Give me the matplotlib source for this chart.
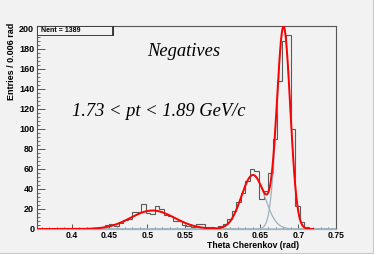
import numpy as np
import matplotlib.pyplot as plt
from matplotlib.patches import Rectangle

# Histogram: 66 bins of 0.006 rad starting at 0.354 rad
x_lo = 0.354
bin_w = 0.006
counts = [0, 0, 0, 0, 0, 1, 0, 0, 1, 0,
          0, 0, 1, 1, 2, 4, 5, 3, 6, 9,
          10, 17, 17, 25, 16, 15, 23, 20, 14, 13,
          8, 8, 4, 3, 2, 5, 5, 2, 2, 1,
          3, 5, 10, 18, 27, 36, 48, 60, 58, 30,
          38, 56, 90, 148, 188, 194, 100, 23, 7, 2,
          0, 0, 0, 0, 0, 0]

# Gaussian fit components (mean, sigma, amplitude)
g_means = [0.507, 0.640, 0.6806]
g_sigmas = [0.029, 0.0153, 0.0088]
g_amps = [18.5, 54.0, 201.0]

x_ticks = [0.4, 0.45, 0.5, 0.55, 0.6, 0.65, 0.7, 0.75]
x_labels = ['0.4', '0.45', '0.5', '0.55', '0.6', '0.65', '0.7', '0.75']
y_ticks = list(range(0, 201, 20))

W, H = 374, 254
fig = plt.figure(figsize=(W / 100, H / 100), dpi=100, facecolor='#f2f2f2')
ax = fig.add_axes([37 / W, 25 / H, 299 / W, 203 / H])
ax.set_facecolor('#f2f2f2')

edges = x_lo + bin_w * np.arange(len(counts) + 1)
ax.stairs(counts, edges, baseline=None, color='#5a5a5a', lw=0.8, zorder=2)


def gauss(x, m, s, a):
    return a * np.exp(-0.5 * ((x - m) / s) ** 2)


xs = np.linspace(x_lo, 0.75, 800)
for m, s, a in zip(g_means, g_sigmas, g_amps):
    ax.plot(xs, gauss(xs, m, s, a), color='#9db3bf', lw=0.9, zorder=3)

xf = xs[xs <= 0.72]
total = sum(gauss(xf, m, s, a) for m, s, a in zip(g_means, g_sigmas, g_amps))
ax.plot(xf, total, color='#ff0000', lw=1.4, zorder=4)

ax.set_xlim(x_lo, 0.75)
ax.set_ylim(0, 203)
ax.set_xticks(x_ticks)
ax.set_xticklabels(x_labels)
ax.set_xticks(np.arange(0.36, 0.7501, 0.01), minor=True)
ax.set_yticks(y_ticks)
ax.set_yticks(range(0, 201, 4), minor=True)
for lab in ax.get_yticklabels():
    lab.set_fontfamily('Liberation Sans')
    lab.set_fontweight('bold')
    lab.set_fontsize(6.5)
for lab in ax.get_xticklabels():
    lab.set_fontfamily('Liberation Sans')
    lab.set_fontweight('bold')
    lab.set_fontsize(6.2)
ax.tick_params(axis='x', which='major', direction='in', length=3.6, width=0.7,
               color='#555555', pad=1.8, top=False)
ax.tick_params(axis='x', which='minor', direction='in', length=1.8, width=0.6,
               color='#555555', top=False)
ax.tick_params(axis='y', which='major', direction='in', length=5.5, width=0.7,
               color='#555555', pad=2, right=False)
ax.tick_params(axis='y', which='minor', direction='in', length=2.5, width=0.6,
               color='#555555', right=False)
for side in ['left', 'top', 'right']:
    ax.spines[side].set_color('#555555')
    ax.spines[side].set_linewidth(0.8)
ax.spines['bottom'].set_color('#9db3bf')
ax.spines['bottom'].set_linewidth(0.9)

# Titles
fig.text(299 / W, 1 - 245.8 / H, 'Theta Cherenkov (rad)', ha='right', va='center',
         family='Liberation Sans', weight='bold', fontsize=6.2)
fig.text(12 / W, 1 - 23 / H, 'Entries / 0.006 rad', ha='center', va='top',
         rotation=90, family='Liberation Sans', weight='bold', fontsize=6.5)

ax.text(184 / W, 1 - 52 / H, 'Negatives', transform=fig.transFigure,
        ha='center', va='center', family='Liberation Serif', style='italic',
        fontsize=13.3)
ax.text(72 / W, 1 - 112 / H, '1.73 < pt < 1.89 GeV/c', transform=fig.transFigure,
        ha='left', va='center', family='Liberation Serif', style='italic',
        fontsize=13.3)

# Stats box with shadow
fig.patches.append(Rectangle((38.5 / W, 1 - 35.8 / H), 75.5 / W, 9.5 / H,
                             transform=fig.transFigure, facecolor='#333333',
                             edgecolor='none', zorder=5))
fig.patches.append(Rectangle((37 / W, 1 - 34.7 / H), 75.5 / W, 8.7 / H,
                             transform=fig.transFigure, facecolor='#f2f2f2',
                             edgecolor='#333333', lw=0.6, zorder=6))
fig.text(41 / W, 1 - 30.3 / H, 'Nent = 1389', ha='left', va='center',
         family='Liberation Sans', weight='bold', fontsize=5, zorder=7)

# Canvas bevel
fig.add_artist(plt.Line2D([0, 372.5 / W], [1.5 / H, 1.5 / H], transform=fig.transFigure,
                          color='#c8c8c8', lw=0.8))
fig.add_artist(plt.Line2D([372.5 / W, 372.5 / W], [1.5 / H, 1], transform=fig.transFigure,
                          color='#c8c8c8', lw=0.8))

fig.savefig('out.png', dpi=100, facecolor=fig.get_facecolor())
